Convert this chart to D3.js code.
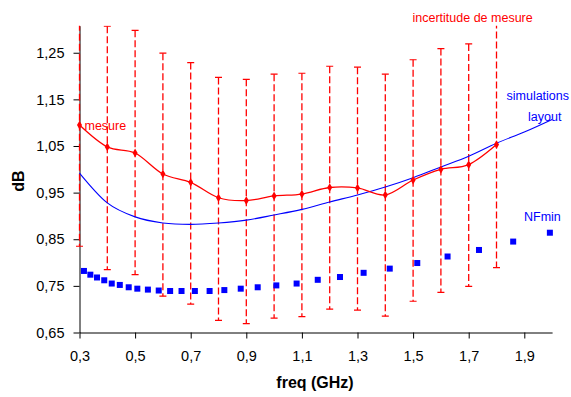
<!DOCTYPE html>
<html>
<head>
<meta charset="utf-8">
<script src="https://cdnjs.cloudflare.com/ajax/libs/d3/7.8.5/d3.min.js"></script>
<style>
  body { margin: 0; background: #fff; }
  svg { font-family: Arial, "Liberation Sans", sans-serif; }
</style>
</head>
<body>
<div id="chart"></div>
<script>
// measured points (red)
const freqMesure = [0.3, 0.4, 0.5, 0.6, 0.7, 0.8, 0.9, 1.0, 1.1, 1.2, 1.3, 1.4, 1.5, 1.6, 1.7, 1.8];
const mesure = [1.095, 1.048, 1.035, 0.990, 0.972, 0.939, 0.933, 0.943, 0.947, 0.961, 0.960, 0.945, 0.977, 1.000, 1.010, 1.053];
// uncertainty bars
const errTop = [1.355, 1.307, 1.298, 1.249, 1.229, 1.197, 1.193, 1.204, 1.206, 1.221, 1.219, 1.204, 1.235, 1.259, 1.269, 1.317];
const errBottom = [0.835, 0.785, 0.774, 0.728, 0.711, 0.676, 0.669, 0.681, 0.684, 0.700, 0.698, 0.685, 0.717, 0.736, 0.749, 0.789];

// layout simulation (blue line)
const freqSim = [0.3, 0.4, 0.5, 0.6, 0.7, 0.8, 0.9, 1.0, 1.1, 1.2, 1.3, 1.4, 1.5, 1.6, 1.7, 1.8, 1.9, 2.0];
const simLayout = [0.992, 0.928, 0.898, 0.885, 0.882, 0.885, 0.891, 0.902, 0.914, 0.930, 0.945, 0.962, 0.982, 1.005, 1.028, 1.056, 1.080, 1.107];

// NFmin (blue squares)
const freqNF = [0.316, 0.339, 0.363, 0.389, 0.416, 0.445, 0.477, 0.508, 0.546, 0.585, 0.626, 0.667, 0.715,
  0.768, 0.821, 0.880, 0.941, 1.008, 1.081, 1.157, 1.237, 1.322, 1.416, 1.515, 1.624, 1.737, 1.860, 1.992];
const nfMin = [0.782, 0.774, 0.768, 0.762, 0.755, 0.752, 0.747, 0.744, 0.742, 0.740, 0.739, 0.739, 0.739,
  0.739, 0.741, 0.744, 0.747, 0.751, 0.755, 0.763, 0.769, 0.778, 0.787, 0.799, 0.813, 0.827, 0.845, 0.864];

const xTicks = [0.3, 0.5, 0.7, 0.9, 1.1, 1.3, 1.5, 1.7, 1.9];
const yTicks = [0.65, 0.75, 0.85, 0.95, 1.05, 1.15, 1.25];

const width = 571, height = 397;
const red = '#ff0000', blue = '#0000ff';

const svg = d3.select('#chart').append('svg')
  .attr('width', width)
  .attr('height', height);

const x = d3.scaleLinear().domain([0.3, 2.0]).range([79.5, 552.1]);
const y = d3.scaleLinear().domain([0.65, 1.308]).range([332.5, 25.7]);

svg.append('clipPath').attr('id', 'plot')
  .append('rect')
  .attr('x', x(0.3) - 10).attr('y', y(1.308))
  .attr('width', x(2.0) - x(0.3) + 20).attr('height', y(0.65) - y(1.308) + 10);

const comma = f => (v => d3.format(f)(v).replace('.', ','));

// axes
const xAxis = svg.append('g')
  .attr('transform', 'translate(0,' + y(0.65) + ')')
  .call(d3.axisBottom(x).tickValues(xTicks).tickSize(6).tickSizeOuter(0).tickPadding(12).tickFormat(comma('.1f')));
const yAxis = svg.append('g')
  .attr('transform', 'translate(' + x(0.3) + ',0)')
  .call(d3.axisLeft(y).tickValues(yTicks).tickSize(6).tickSizeOuter(0).tickPadding(9).tickFormat(comma('.2f')));
[xAxis, yAxis].forEach(a => {
  a.selectAll('text').style('font-size', '14.5px').attr('fill', '#000');
  a.selectAll('line, path').attr('stroke', '#000');
});

// error bars
const bars = svg.append('g').attr('clip-path', 'url(#plot)');
freqMesure.forEach((f, i) => {
  bars.append('line')
    .attr('x1', x(f)).attr('x2', x(f))
    .attr('y1', y(errTop[i])).attr('y2', y(errBottom[i]))
    .attr('stroke', red).attr('stroke-width', 1.3)
    .attr('stroke-dasharray', '7,3');
  [errTop[i], errBottom[i]].forEach(v => {
    bars.append('line')
      .attr('x1', x(f) - 3.5).attr('x2', x(f) + 3.5)
      .attr('y1', y(v)).attr('y2', y(v))
      .attr('stroke', red).attr('stroke-width', 1.2);
  });
});

// simulation line
svg.append('path')
  .datum(freqSim.map((f, i) => [f, simLayout[i]]))
  .attr('fill', 'none').attr('stroke', blue).attr('stroke-width', 1.1)
  .attr('d', d3.line().x(d => x(d[0])).y(d => y(d[1])).curve(d3.curveCardinal.tension(0)));

// measure line
svg.append('path')
  .datum(freqMesure.map((f, i) => [f, mesure[i]]))
  .attr('fill', 'none').attr('stroke', red).attr('stroke-width', 1.3)
  .attr('d', d3.line().x(d => x(d[0])).y(d => y(d[1])).curve(d3.curveCardinal.tension(0)));

svg.append('g').selectAll('path')
  .data(freqMesure.map((f, i) => [f, mesure[i]]))
  .join('path')
  .attr('transform', d => 'translate(' + x(d[0]) + ',' + y(d[1]) + ')')
  .attr('d', d3.symbol(d3.symbolDiamond, 22))
  .attr('fill', red);

// NFmin squares
svg.append('g').selectAll('rect')
  .data(freqNF.map((f, i) => [f, nfMin[i]]))
  .join('rect')
  .attr('x', d => x(d[0]) - 3).attr('y', d => y(d[1]) - 3)
  .attr('width', 6).attr('height', 6)
  .attr('fill', blue);

// labels
const label = (t, lx, ly, c) => svg.append('text')
  .attr('x', lx).attr('y', ly).attr('fill', c)
  .style('font-size', '12.5px').text(t);
label('mesure', 84.5, 130, red);
label('incertitude de mesure', 412.5, 22, red);
label('simulations', 506.5, 100, blue);
label('layout', 528, 120.5, blue);
label('NFmin', 524, 221, blue);

svg.append('text')
  .attr('transform', 'translate(24,181) rotate(-90)')
  .attr('text-anchor', 'middle')
  .style('font-size', '16px').style('font-weight', 'bold')
  .text('dB');

svg.append('text')
  .attr('x', 315).attr('y', 388)
  .attr('text-anchor', 'middle')
  .style('font-size', '16px').style('font-weight', 'bold')
  .text('freq (GHz)');
</script>
</body>
</html>
